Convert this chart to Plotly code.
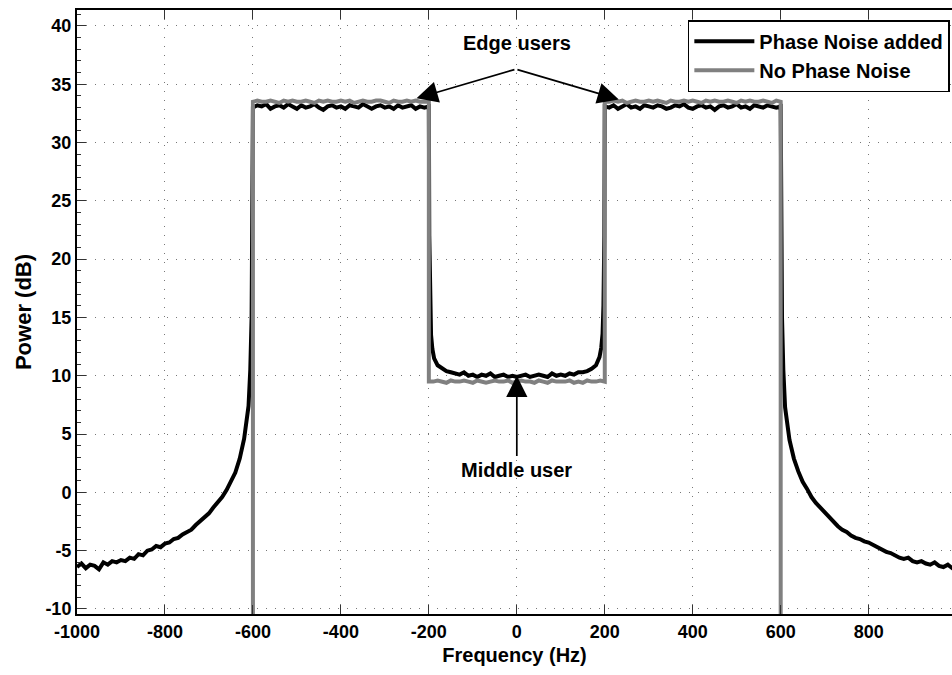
import plotly.graph_objects as go

# ---- Phase Noise added: spectrum read at discrete frequencies (Hz, dB) ----
left_tail_f = [-1000, -990, -980, -970, -960, -950, -940, -930, -920, -910,
               -900, -890, -880, -870, -860, -850, -840, -830, -820, -810,
               -800, -790, -780, -770, -760, -750, -740, -730, -720, -710,
               -700, -690, -680, -670, -660, -650, -640, -630, -620, -610,
               -606, -603, -601]
left_tail_p = [-6.4, -6.1, -6.5, -6.2, -6.3, -6.6, -6.0, -6.2, -5.9, -6.0,
               -5.8, -5.9, -5.6, -5.7, -5.3, -5.4, -5.0, -4.9, -4.6, -4.7,
               -4.4, -4.3, -4.0, -3.9, -3.6, -3.4, -3.2, -2.8, -2.5, -2.1,
               -1.8, -1.3, -0.9, -0.4, 0.2, 0.9, 1.7, 2.9, 4.6, 7.4,
               10.5, 15.0, 22.0]

edge_left_f = list(range(-600, -199, 10))
edge_left_pn = [33.0, 33.2, 33.1, 33.3, 32.9, 33.1, 33.2, 33.0, 33.3, 33.1,
                32.9, 33.2, 33.0, 33.1, 33.3, 33.0, 32.8, 33.1, 33.2, 33.0,
                33.1, 32.9, 33.2, 33.1, 33.0, 33.3, 33.1, 32.9, 33.1, 33.2,
                33.0, 33.1, 32.9, 33.2, 33.0, 33.1, 33.2, 32.9, 33.1, 33.0,
                33.1]

mid_f = [-199, -197, -195, -192, -188, -180, -170, -160, -150,
         -140, -130, -120, -110, -100, -90, -80, -70, -60, -50,
         -40, -30, -20, -10, 0, 10, 20, 30, 40, 50,
         60, 70, 80, 90, 100, 110, 120, 130, 140,
         150, 160, 170, 180, 188, 192, 195, 197, 199]
mid_pn = [22.0, 16.0, 13.5, 12.3, 11.5, 10.9, 10.6, 10.4, 10.3,
          10.2, 10.1, 10.3, 10.0, 10.1, 9.9, 10.1, 10.0, 10.2, 9.9,
          10.0, 10.1, 9.9, 10.0, 9.9, 10.0, 10.1, 9.9, 10.0, 10.1,
          10.0, 9.9, 10.2, 10.0, 10.1, 10.0, 10.2, 10.1, 10.3,
          10.3, 10.4, 10.6, 10.9, 11.6, 12.4, 13.6, 16.0, 22.0]

edge_right_f = list(range(200, 601, 10))
edge_right_pn = [33.1, 33.0, 33.2, 32.9, 33.1, 33.3, 33.0, 33.1, 32.9, 33.2,
                 33.1, 33.0, 33.2, 33.1, 32.9, 33.0, 33.2, 33.1, 33.3, 33.0,
                 32.9, 33.1, 33.2, 33.0, 33.1, 32.8, 33.1, 33.2, 33.0, 33.1,
                 33.3, 33.0, 33.1, 32.9, 33.2, 33.1, 33.0, 33.2, 33.1, 33.0,
                 33.1]

right_tail_f = [601, 603, 606,
                610, 620, 630, 640, 650, 660, 670, 680, 690, 700,
                710, 720, 730, 740, 750, 760, 770, 780, 790, 800,
                810, 820, 830, 840, 850, 860, 870, 880, 890, 900,
                910, 920, 930, 940, 950, 960, 970, 980, 990, 1000]
right_tail_p = [22.0, 15.0, 10.5,
                7.3, 4.5, 2.9, 1.8, 0.9, 0.3, -0.4, -0.9, -1.3, -1.8,
                -2.2, -2.5, -2.9, -3.2, -3.4, -3.7, -3.9, -4.0, -4.2, -4.3,
                -4.5, -4.7, -4.9, -5.1, -5.2, -5.4, -5.6, -5.7, -5.6, -5.9,
                -6.0, -5.9, -6.1, -6.2, -6.0, -6.3, -6.4, -6.2, -6.5, -6.4]

# ---- No Phase Noise: ideal spectrum (out-of-band floor far below the axis) ----
floor_db = -50
edge_left_np = [33.5, 33.6, 33.5, 33.5, 33.6, 33.5, 33.4, 33.6, 33.5, 33.6,
                33.5, 33.5, 33.6, 33.5, 33.4, 33.6, 33.5, 33.6, 33.5, 33.5,
                33.6, 33.5, 33.6, 33.4, 33.5, 33.6, 33.5, 33.5, 33.6, 33.6,
                33.5, 33.4, 33.6, 33.5, 33.5, 33.6, 33.5, 33.6, 33.5, 33.5,
                33.5]
mid_np_f = list(range(-200, 201, 10))
mid_np = [9.5, 9.5, 9.6, 9.5, 9.4, 9.6, 9.5, 9.5, 9.6, 9.5,
          9.4, 9.6, 9.5, 9.4, 9.5, 9.6, 9.5, 9.5, 9.6, 9.4,
          9.5, 9.6, 9.5, 9.5, 9.4, 9.6, 9.5, 9.4, 9.6, 9.5,
          9.5, 9.5, 9.6, 9.4, 9.5, 9.4, 9.6, 9.5, 9.5, 9.6,
          9.5]
edge_right_np = [33.5, 33.5, 33.6, 33.5, 33.6, 33.4, 33.5, 33.6, 33.5, 33.5,
                 33.6, 33.5, 33.6, 33.5, 33.4, 33.6, 33.5, 33.5, 33.6, 33.5,
                 33.6, 33.5, 33.4, 33.6, 33.5, 33.6, 33.5, 33.5, 33.6, 33.5,
                 33.4, 33.6, 33.5, 33.6, 33.5, 33.5, 33.6, 33.5, 33.4, 33.6,
                 33.5]

x_ticks = [-1000, -800, -600, -400, -200, 0, 200, 400, 600, 800]
y_ticks = [-10, -5, 0, 5, 10, 15, 20, 25, 30, 35, 40]

pn_f = left_tail_f + edge_left_f + mid_f + edge_right_f + right_tail_f
pn_p = left_tail_p + edge_left_pn + mid_pn + edge_right_pn + right_tail_p

np_f = ([-1000, -600] + edge_left_f + mid_np_f + edge_right_f + [600, 1000])
np_p = ([floor_db, floor_db] + edge_left_np + mid_np + edge_right_np
        + [floor_db, floor_db])

FONT = "Liberation Sans, Arial, Helvetica, sans-serif"

fig = go.Figure()
fig.add_trace(go.Scatter(x=pn_f, y=pn_p, mode="lines", name="Phase Noise added",
                         line=dict(color="#000000", width=4)))
fig.add_trace(go.Scatter(x=np_f, y=np_p, mode="lines", name="No Phase Noise",
                         line=dict(color="#808080", width=4)))

# Annotation arrows
arrow = dict(showarrow=True, arrowhead=2, arrowsize=2.5, arrowwidth=1.7,
             arrowcolor="#000000", axref="x", ayref="y", text="")
fig.add_annotation(x=-228, y=33.8, ax=-2, ay=36.3, **arrow)
fig.add_annotation(x=232, y=33.7, ax=-2, ay=36.3, **arrow)
fig.add_annotation(x=0, y=10.0, ax=0, ay=3.0, **arrow)
fig.add_annotation(x=0, y=38.5, text="Edge users", showarrow=False,
                   font=dict(size=20, family=FONT, color="#000", weight="bold"))
fig.add_annotation(x=0, y=1.9, text="Middle user", showarrow=False,
                   font=dict(size=20, family=FONT, color="#000", weight="bold"))

grid_dash = "1px,8px"
fig.update_xaxes(range=[-1000, 989.5], tickvals=x_ticks,
                 ticktext=[str(v) for v in x_ticks],
                 showline=True, linecolor="#000", linewidth=2, mirror="ticks",
                 ticks="inside", ticklen=9, tickwidth=1.2, tickcolor="#333",
                 showgrid=True, gridcolor="#777", griddash=grid_dash, gridwidth=1,
                 zeroline=False,
                 tickfont=dict(size=18, family=FONT, color="#000", weight="bold"),
                 title=dict(text="Frequency (Hz)", standoff=7,
                            font=dict(size=20, family=FONT, color="#000", weight="bold")))
fig.update_yaxes(range=[-10.43, 41.37], tickvals=y_ticks,
                 ticktext=[str(v) for v in y_ticks],
                 showline=True, linecolor="#000", linewidth=2, mirror=False,
                 ticks="inside", ticklen=9, tickwidth=1.2, tickcolor="#333",
                 minor=dict(dtick=1, ticks="inside", ticklen=4, tickcolor="#333",
                            showgrid=False),
                 showgrid=True, gridcolor="#777", griddash=grid_dash, gridwidth=1,
                 zeroline=False,
                 tickfont=dict(size=18, family=FONT, color="#000", weight="bold"),
                 title=dict(text="Power (dB)", standoff=8,
                            font=dict(size=22, family=FONT, color="#000", weight="bold")))

fig.update_layout(
    width=952, height=675,
    margin=dict(l=77, r=0, t=10, b=61),
    paper_bgcolor="#ffffff", plot_bgcolor="#ffffff",
    font=dict(family=FONT, color="#000", weight="bold"),
    legend=dict(x=0.698, y=0.983, xanchor="left", yanchor="top",
                bgcolor="#ffffff", bordercolor="#000", borderwidth=1.6,
                font=dict(size=20, family=FONT, color="#000", weight="bold"),
                itemwidth=60, tracegroupgap=0),
    showlegend=True,
)

fig.write_html("out.html")
